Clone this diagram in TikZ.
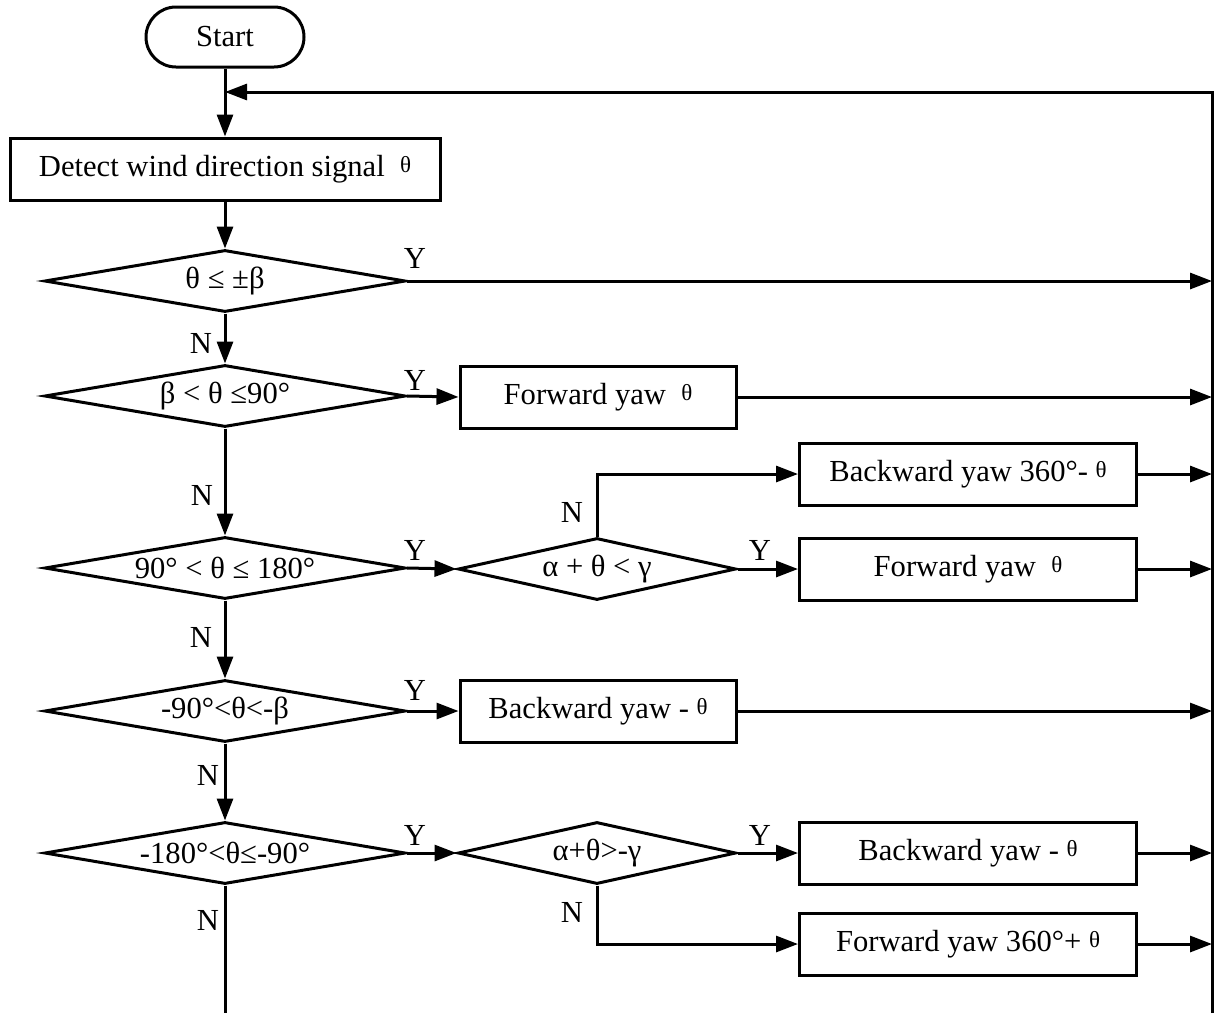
\documentclass[tikz,border=0pt]{standalone}
\usepackage{fontspec}
\setmainfont{Liberation Serif}
\usetikzlibrary{arrows.meta,shapes.geometric}
% small raised theta used after the action texts
\newcommand\thsm{{\fontsize{11.5}{12}\selectfont\raisebox{2pt}{θ}}}
\begin{document}
\begin{tikzpicture}[x=0.5pt,y=-0.5pt,
  font=\fontsize{15.3}{18}\selectfont,
  line width=1.5pt,
  >={Triangle[length=11pt,width=8pt]},
  base/.style={draw, line width=1.5pt, inner sep=0pt, align=center},
  term/.style={base, rectangle, rounded corners=15pt, minimum width=79pt, minimum height=30pt},
  proc/.style={base, rectangle, minimum height=31pt},
  cond/.style={base, diamond, aspect=5.8, minimum width=180.5pt, minimum height=31pt},
  subcond/.style={base, diamond, aspect=4.5, minimum width=139pt, minimum height=31pt},
  lab/.style={inner sep=0pt}
]
\useasboundingbox (0,0) rectangle (1219,1013);

% main column
\node[term] (start) at (225,37) {Start};
\node[proc, minimum width=215pt] (detect) at (225,169) {Detect wind direction signal\ \ \thsm};
\node[cond] (c1) at (225,281) {θ ≤ ±β};
\node[cond] (c2) at (225,396) {β < θ ≤90°};
\node[cond] (c3) at (225,568) {90° < θ ≤ 180°};
\node[cond] (c4) at (225,711) {-90°<θ<-β};
\node[cond] (c5) at (225,853) {-180°<θ≤-90°};

% second column
\node[proc, minimum width=138pt] (fw1) at (598,397) {Forward yaw \ \thsm};
\node[subcond] (a1) at (597,569) {α + θ < γ};
\node[proc, minimum width=138pt] (bw1) at (598,711) {Backward yaw - \thsm};
\node[subcond] (a2) at (597,853) {α+θ>-γ};

% third column
\node[proc, minimum width=168.5pt] (bw360) at (968,474) {Backward yaw 360°- \thsm};
\node[proc, minimum width=168.5pt] (fw2) at (968,569) {Forward yaw \ \thsm};
\node[proc, minimum width=168.5pt] (bw2) at (968,853) {Backward yaw - \thsm};
\node[proc, minimum width=168.5pt] (fw360) at (968,944) {Forward yaw 360°+ \thsm};

% return bus
\coordinate (loop) at (225,92);
\coordinate (busTop) at (1212,92);
\coordinate (busBot) at (1212,1013);
\coordinate (leftBot) at (225,1013);

\draw[->] (busBot) -- (busTop) -- (loop);
\draw[->] (start) -- (detect);
\draw[->] (detect) -- (c1);
\draw[->] (c1) -- (c2);
\draw[->] (c2) -- (c3);
\draw[->] (c3) -- (c4);
\draw[->] (c4) -- (c5);
\draw (c5.south) -- (leftBot);

\draw[->] (c1.east) -- (c1.east -| busTop);
\draw[->] (c2.east) -- (fw1.west);
\draw[->] (fw1.east) -- (fw1.east -| busTop);
\draw[->] (c3.east) -- (a1.west);
\draw[->] (a1.north) |- (bw360.west);
\draw[->] (a1.east) -- (fw2.west);
\draw[->] (bw360.east) -- (bw360.east -| busTop);
\draw[->] (fw2.east) -- (fw2.east -| busTop);
\draw[->] (c4.east) -- (bw1.west);
\draw[->] (bw1.east) -- (bw1.east -| busTop);
\draw[->] (c5.east) -- (a2.west);
\draw[->] (a2.east) -- (bw2.west);
\draw[->] (a2.south) |- (fw360.west);
\draw[->] (bw2.east) -- (bw2.east -| busTop);
\draw[->] (fw360.east) -- (fw360.east -| busTop);

% branch labels
\node[lab] (y1) at (415,258) {Y};
\node[lab] (y2) at (415,380) {Y};
\node[lab] (y3) at (415,550) {Y};
\node[lab] (y4) at (415,690) {Y};
\node[lab] (y5) at (415,835) {Y};
\node[lab] (ya1) at (760,550) {Y};
\node[lab] (ya2) at (760,835) {Y};
\node[lab] (n1) at (201,343) {N};
\node[lab] (n2) at (202,495) {N};
\node[lab] (n3) at (201,637) {N};
\node[lab] (n4) at (208,775) {N};
\node[lab] (n5) at (208,920) {N};
\node[lab] (na1) at (572,512) {N};
\node[lab] (na2) at (572,912) {N};
\end{tikzpicture}
\end{document}
